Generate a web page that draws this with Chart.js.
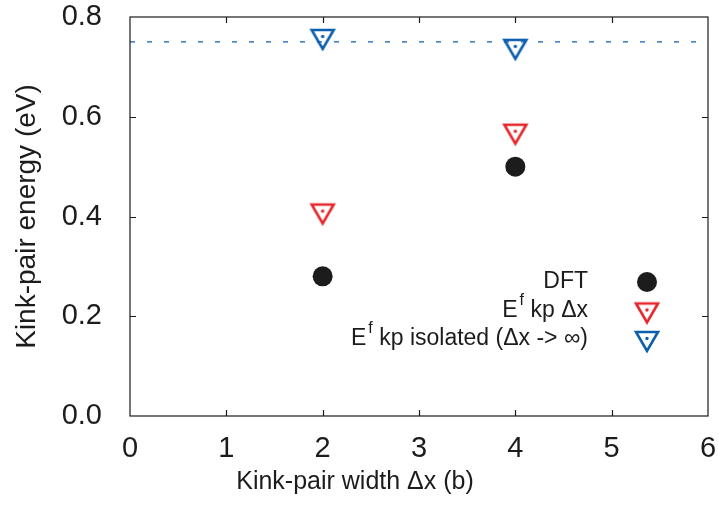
<!DOCTYPE html>
<html>
<head>
<meta charset="utf-8">
<script src="https://cdn.jsdelivr.net/npm/chart.js@4.4.0/dist/chart.umd.min.js"></script>
<style>
  html, body { margin: 0; padding: 0; background: #fff; }
  #wrap { width: 718px; height: 511px; }
</style>
</head>
<body>
<div id="wrap"><canvas id="kinkChart"></canvas></div>
<script>
// values
const widths = [2, 4];
const dftEnergy = [0.28, 0.50];
const kpEnergy = [0.41, 0.57];
const kpIsolatedEnergy = [0.76, 0.74];
const isolatedLimit = 0.75;
const xRange = [0, 6];
const yRange = [0, 0.8];
const xTickStep = 1;
const yTickStep = 0.2;
const legendLabels = ['DFT', 'E^f kp Δx', 'E^f kp isolated (Δx -> ∞)'];

const RED = '#e5242b';
const BLUE = '#0b5fae';
const INK = '#1c1c1c';
const FONT = "'Liberation Sans', Arial, sans-serif";

// down triangle with a dot in the middle (gnuplot style)
function triangleMarker(color) {
    const c = document.createElement('canvas');
    c.width = 28;
    c.height = 30;
    const g = c.getContext('2d');
    g.strokeStyle = color;
    g.lineWidth = 2.6;
    g.beginPath();
    g.moveTo(3, 8);
    g.lineTo(25, 8);
    g.lineTo(14, 27);
    g.closePath();
    g.stroke();
    g.fillStyle = color;
    g.beginPath();
    g.arc(14, 14.5, 1.7, 0, Math.PI * 2);
    g.fill();
    return c;
}

const redMarker = triangleMarker(RED);
const blueMarker = triangleMarker(BLUE);

const toPoints = (xs, ys) => xs.map((x, i) => ({ x: x, y: ys[i] }));

// frame + inward ticks on all four sides
const framePlugin = {
    id: 'frame',
    afterDraw(chart) {
        const { ctx, chartArea: a, scales } = chart;
        ctx.save();
        ctx.strokeStyle = INK;
        ctx.lineWidth = 1.2;
        ctx.strokeRect(a.left, a.top, a.right - a.left, a.bottom - a.top);
        ctx.beginPath();
        for (let v = xRange[0] + xTickStep; v < xRange[1]; v += xTickStep) {
            const px = Math.round(scales.x.getPixelForValue(v)) + 0.5;
            ctx.moveTo(px, a.bottom); ctx.lineTo(px, a.bottom - 6);
            ctx.moveTo(px, a.top); ctx.lineTo(px, a.top + 6);
        }
        for (let v = yRange[0] + yTickStep; v < yRange[1] - 1e-9; v += yTickStep) {
            const py = Math.round(scales.y.getPixelForValue(v)) + 0.5;
            ctx.moveTo(a.left, py); ctx.lineTo(a.left + 6, py);
            ctx.moveTo(a.right, py); ctx.lineTo(a.right - 6, py);
        }
        ctx.stroke();
        ctx.restore();
    }
};

// gnuplot-like key: right aligned text, marker on the right
function drawLabel(ctx, label, xRight, y) {
    const parts = label.split('^');
    const pieces = [];
    pieces.push({ t: parts[0], sup: false });
    for (let i = 1; i < parts.length; i++) {
        pieces.push({ t: parts[i].charAt(0), sup: true });
        pieces.push({ t: ' ' + parts[i].slice(1).trimStart(), sup: false });
    }
    const mainFont = '23px ' + FONT;
    const supFont = '16px ' + FONT;
    let total = 0;
    pieces.forEach(p => {
        ctx.font = p.sup ? supFont : mainFont;
        p.w = ctx.measureText(p.t).width + (p.sup ? 2 : 0);
        total += p.w;
    });
    let x = xRight - total;
    ctx.textAlign = 'left';
    ctx.textBaseline = 'middle';
    pieces.forEach(p => {
        ctx.font = p.sup ? supFont : mainFont;
        ctx.fillText(p.t, x + (p.sup ? 2 : 0), p.sup ? y - 10 : y);
        x += p.w;
    });
}

const keyPlugin = {
    id: 'key',
    afterDatasetsDraw(chart) {
        const { ctx, chartArea: a } = chart;
        ctx.save();
        const textRight = a.right - 120;
        const markX = a.right - 61;
        legendLabels.forEach((label, i) => {
            const y = a.bottom - 134 + i * 28.5;
            ctx.fillStyle = INK;
            drawLabel(ctx, label, textRight, y);
            const ds = chart.data.datasets[i];
            if (ds.pointStyle === 'circle') {
                ctx.fillStyle = ds.backgroundColor;
                ctx.beginPath();
                ctx.arc(markX, y, ds.pointRadius, 0, Math.PI * 2);
                ctx.fill();
            } else {
                const img = ds.pointStyle;
                ctx.drawImage(img, markX - img.width / 2, y - img.height / 2);
            }
        });
        ctx.restore();
    }
};

const ctx = document.getElementById('kinkChart').getContext('2d');

window.kinkChart = new Chart(ctx, {
    type: 'scatter',
    data: {
        datasets: [{
            label: legendLabels[0],
            data: toPoints(widths, dftEnergy),
            pointStyle: 'circle',
            pointRadius: 10,
            backgroundColor: INK,
            borderWidth: 0
        }, {
            label: legendLabels[1],
            data: toPoints(widths, kpEnergy),
            pointStyle: redMarker
        }, {
            label: legendLabels[2],
            data: toPoints(widths, kpIsolatedEnergy),
            pointStyle: blueMarker
        }, {
            type: 'line',
            label: 'isolated limit',
            data: toPoints(xRange, [isolatedLimit, isolatedLimit]),
            borderColor: BLUE,
            borderWidth: 1.3,
            borderDash: [5, 12],
            pointRadius: 0,
            fill: false
        }]
    },
    options: {
        responsive: true,
        maintainAspectRatio: false,
        animation: false,
        layout: { padding: { top: 17, right: 8, left: 0, bottom: 0 } },
        plugins: {
            legend: { display: false },
            tooltip: { enabled: false },
            title: {
                display: true,
                position: 'bottom',
                text: 'Kink-pair width Δx (b)',
                color: INK,
                font: { family: FONT, size: 25, weight: 'normal' },
                padding: { top: 0, bottom: 14 }
            }
        },
        scales: {
            x: {
                type: 'linear',
                min: xRange[0],
                max: xRange[1],
                grid: { display: false },
                border: { display: false },
                ticks: {
                    stepSize: xTickStep,
                    color: INK,
                    padding: 8,
                    font: { family: FONT, size: 29 }
                },
                afterFit(scale) {
                    scale.height = 51;
                    scale.paddingLeft = 0;
                    scale.paddingRight = 0;
                }
            },
            y: {
                min: yRange[0],
                max: yRange[1],
                grid: { display: false },
                border: { display: false },
                title: {
                    display: true,
                    text: 'Kink-pair energy (eV)',
                    color: INK,
                    font: { family: FONT, size: 28 },
                    padding: { top: 10, bottom: 0 }
                },
                ticks: {
                    stepSize: yTickStep,
                    color: INK,
                    padding: 20,
                    font: { family: FONT, size: 29 },
                    callback: v => v.toFixed(1)
                },
                afterFit(scale) {
                    scale.width = 130;
                    scale.paddingTop = 0;
                    scale.paddingBottom = 0;
                }
            }
        }
    },
    plugins: [framePlugin, keyPlugin]
});
</script>
</body>
</html>
